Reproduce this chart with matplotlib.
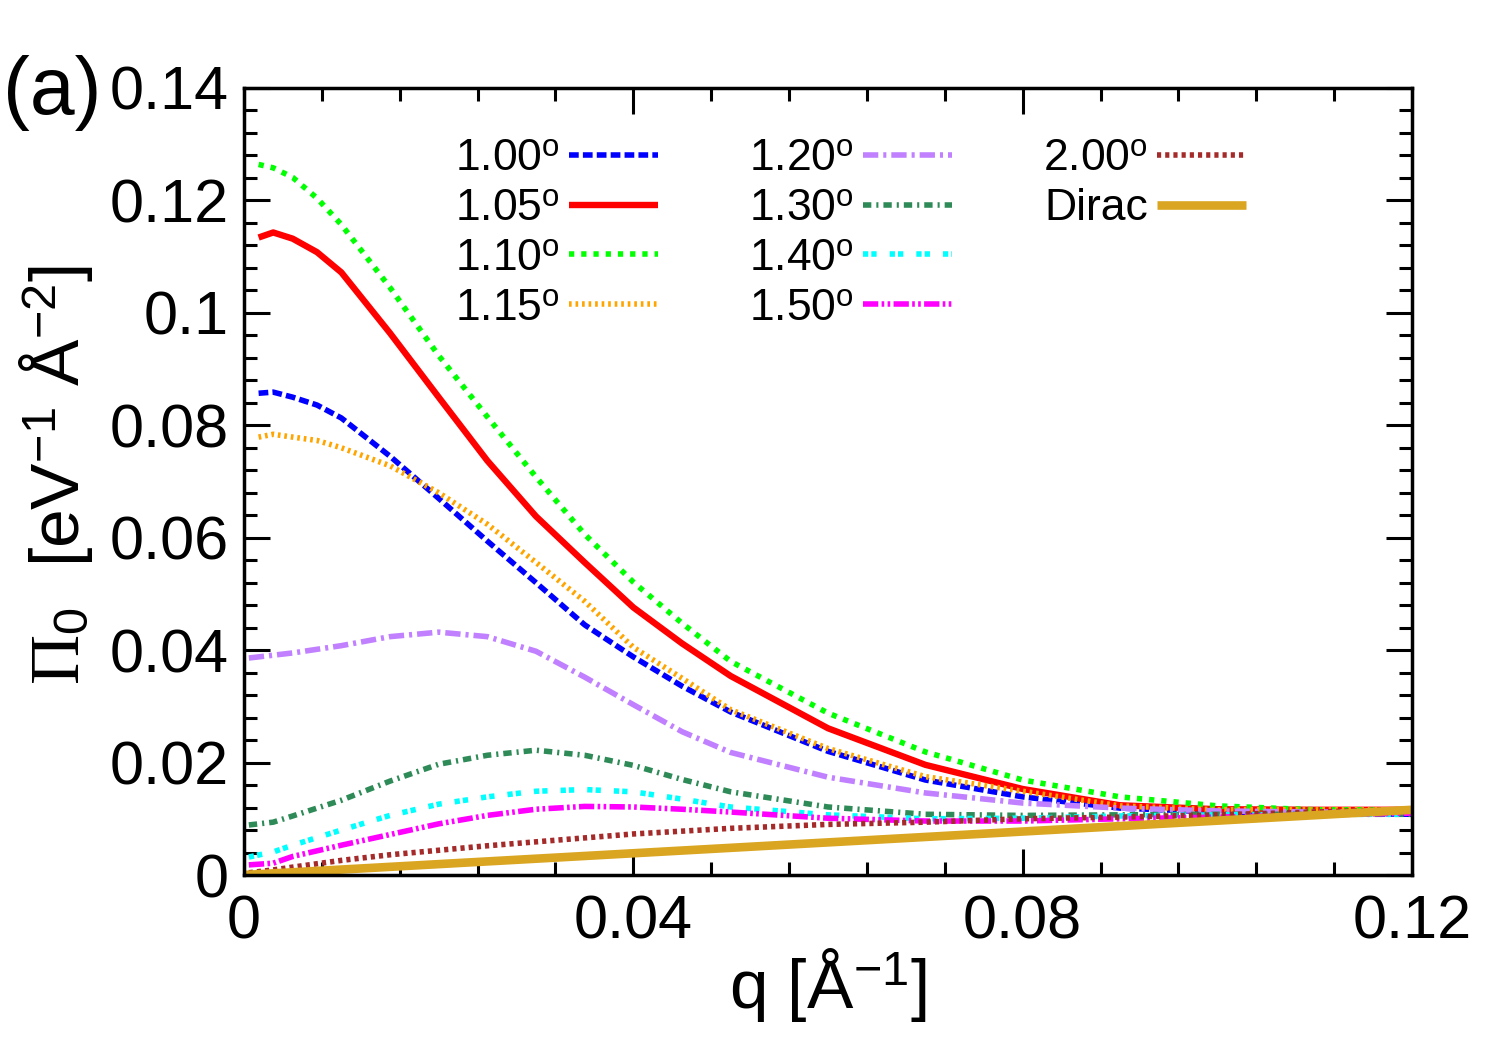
import matplotlib
matplotlib.use("Agg")
import matplotlib.pyplot as plt
from matplotlib.ticker import MultipleLocator, FuncFormatter
from matplotlib.lines import Line2D

plt.rcParams['font.family'] = ['Liberation Sans', 'DejaVu Sans']
plt.rcParams['mathtext.fontset'] = 'custom'
plt.rcParams['mathtext.rm'] = 'Liberation Serif'
plt.rcParams['mathtext.it'] = 'Liberation Serif:italic'
plt.rcParams['mathtext.bf'] = 'Liberation Serif:bold'
plt.rcParams['mathtext.sf'] = 'Liberation Sans'
plt.rcParams['lines.scale_dashes'] = False

# ---------------- data ----------------
q_top = [0.0015, 0.003, 0.005, 0.0075, 0.01, 0.015, 0.02, 0.025, 0.03, 0.035,
         0.04, 0.045, 0.05, 0.06, 0.07, 0.08, 0.09, 0.10, 0.11, 0.12]
pi_100 = [0.0857, 0.0859, 0.0850, 0.0836, 0.0813, 0.0745, 0.0670, 0.0594, 0.0520, 0.0445,
          0.0388, 0.0336, 0.0290, 0.0220, 0.0169, 0.0139, 0.0119, 0.0112, 0.0110, 0.0108]
pi_105 = [0.1134, 0.1143, 0.1132, 0.1108, 0.1072, 0.0964, 0.0850, 0.0737, 0.0638, 0.0556,
          0.0476, 0.0412, 0.0354, 0.0261, 0.0196, 0.0153, 0.0124, 0.0117, 0.0116, 0.0116]
pi_110 = [0.1264, 0.1258, 0.1241, 0.1204, 0.1157, 0.1045, 0.0924, 0.0815, 0.0708, 0.0606,
          0.0521, 0.0448, 0.0380, 0.0288, 0.0219, 0.0169, 0.0139, 0.0123, 0.0116, 0.0116]
pi_115 = [0.0779, 0.0784, 0.0779, 0.0773, 0.0760, 0.0728, 0.0680, 0.0624, 0.0556, 0.0487,
          0.0405, 0.0350, 0.0294, 0.0225, 0.0175, 0.0149, 0.0123, 0.0116, 0.0116, 0.0116]

q_low = [0.0005, 0.003, 0.005, 0.01, 0.015, 0.02, 0.025, 0.03, 0.035, 0.04,
         0.045, 0.05, 0.06, 0.07, 0.08, 0.09, 0.10, 0.11, 0.12]
pi_120 = [0.0386, 0.0391, 0.0395, 0.0408, 0.0424, 0.0432, 0.0424, 0.0398, 0.0352, 0.0303,
          0.0255, 0.0218, 0.0174, 0.0146, 0.0128, 0.0119, 0.0114, 0.0112, 0.0112]
pi_130 = [0.0089, 0.0094, 0.0105, 0.0133, 0.0167, 0.0197, 0.0213, 0.0222, 0.0213, 0.0195,
          0.0170, 0.0148, 0.0121, 0.0108, 0.0106, 0.0107, 0.0108, 0.0108, 0.0108]
pi_140 = [0.0032, 0.0041, 0.0053, 0.0080, 0.0106, 0.0126, 0.0139, 0.0149, 0.0152, 0.0148,
          0.0135, 0.0121, 0.0107, 0.0100, 0.0101, 0.0105, 0.0107, 0.0108, 0.0108]
pi_150 = [0.0018, 0.0021, 0.0033, 0.0053, 0.0072, 0.0091, 0.0106, 0.0117, 0.0122, 0.0121,
          0.0117, 0.0112, 0.0101, 0.0096, 0.0096, 0.0100, 0.0103, 0.0107, 0.0110]
pi_200 = [0.0004, 0.0009, 0.0014, 0.0026, 0.0036, 0.0044, 0.0052, 0.0059, 0.0066, 0.0073,
          0.0078, 0.0083, 0.0090, 0.0094, 0.0100, 0.0103, 0.0107, 0.0112, 0.0117]

q_dirac = [0.0, 0.12]
pi_dirac = [0.0, 0.0116]

labels = ['1.00', '1.05', '1.10', '1.15', '1.20', '1.30', '1.40', '1.50', '2.00', 'Dirac']
xticks = [0, 0.04, 0.08, 0.12]
yticks = [0, 0.02, 0.04, 0.06, 0.08, 0.10, 0.12, 0.14]

# ---------------- styles ----------------
lw = 4.0
styles = [
    dict(color='#0000ff', lw=lw, dashes=(7.0, 3.0)),
    dict(color='#ff0000', lw=4.6, ls='-'),
    dict(color='#00ff00', lw=lw, dashes=(3.8, 5.0)),
    dict(color='#ffa500', lw=lw, dashes=(1.9, 2.8)),
    dict(color='#c080ff', lw=lw, dashes=(11.0, 3.6, 2.2, 3.6)),
    dict(color='#2e8b57', lw=lw, dashes=(6.0, 3.6, 1.5, 3.6)),
    dict(color='#00ffff', lw=lw, dashes=(3.8, 2.2, 3.8, 9.4)),
    dict(color='#ff00ff', lw=lw, dashes=(11.0, 2.4, 1.9, 2.4, 1.9, 2.4)),
    dict(color='#a52a2a', lw=lw, dashes=(3.0, 2.9)),
    dict(color='#daa520', lw=6.2, ls='-'),
]
series = [(q_top, pi_100), (q_top, pi_105), (q_top, pi_110), (q_top, pi_115),
          (q_low, pi_120), (q_low, pi_130), (q_low, pi_140), (q_low, pi_150),
          (q_low, pi_200), (q_dirac, pi_dirac)]

fig = plt.figure(figsize=(15, 10.5), dpi=100)
ax = fig.add_axes([244 / 1500, 1 - 875 / 1050, (1412 - 244) / 1500, (875 - 88) / 1050])

handles = []
for (qq, vv), st in zip(series, styles):
    h, = ax.plot(qq, vv, solid_capstyle='butt', dash_capstyle='butt', **st)
    handles.append(h)

ax.set_xlim(0, 0.12)
ax.set_ylim(0, 0.14)
ax.set_xticks(xticks)
ax.set_yticks(yticks)
ax.xaxis.set_minor_locator(MultipleLocator(0.008))
ax.yaxis.set_minor_locator(MultipleLocator(0.004))
fmt = FuncFormatter(lambda v, p: '%g' % round(v, 4))
ax.xaxis.set_major_formatter(fmt)
ax.yaxis.set_major_formatter(fmt)
ax.tick_params(which='both', direction='in', top=True, right=True, width=2.2)
ax.tick_params(which='major', length=19, labelsize=44)
ax.tick_params(which='minor', length=9.5)
ax.tick_params(axis='y', pad=11)
ax.tick_params(axis='x', pad=14)
for s in ax.spines.values():
    s.set_linewidth(2.5)

# legend (3 columns, text before sample)
blank = Line2D([], [], color='none')
leg_labels = [l + r'$^{\mathsf{o}}$' if l != 'Dirac' else l for l in labels]
leg_handles = handles + [blank, blank]
leg_texts = leg_labels + ['', '']
leg = ax.legend(leg_handles, leg_texts, ncol=3, markerfirst=False, frameon=False,
                fontsize=32, handlelength=2.0, handletextpad=0.2, columnspacing=2.05,
                labelspacing=0.2, borderpad=0, loc='upper left',
                bbox_to_anchor=(433 / 1500, 1 - 116 / 1050), bbox_transform=fig.transFigure)

fig.text(828 / 1500, 1 - 1008 / 1050, r'q [Å$^{\mathsf{-1}}$]', fontsize=50,
         ha='center', va='baseline')
fig.text(95 / 1500, 1 - 475 / 1050, r'$\Pi_{\mathsf{0}}$  [eV$^{\mathsf{-1}}$ Å$^{\mathsf{-2}}$]',
         fontsize=50, rotation=90, ha='right', va='center')
fig.text(3 / 1500, 1 - 114 / 1050, '(a)', fontsize=58, ha='left', va='baseline')

fig.savefig('out.png', dpi=100)
